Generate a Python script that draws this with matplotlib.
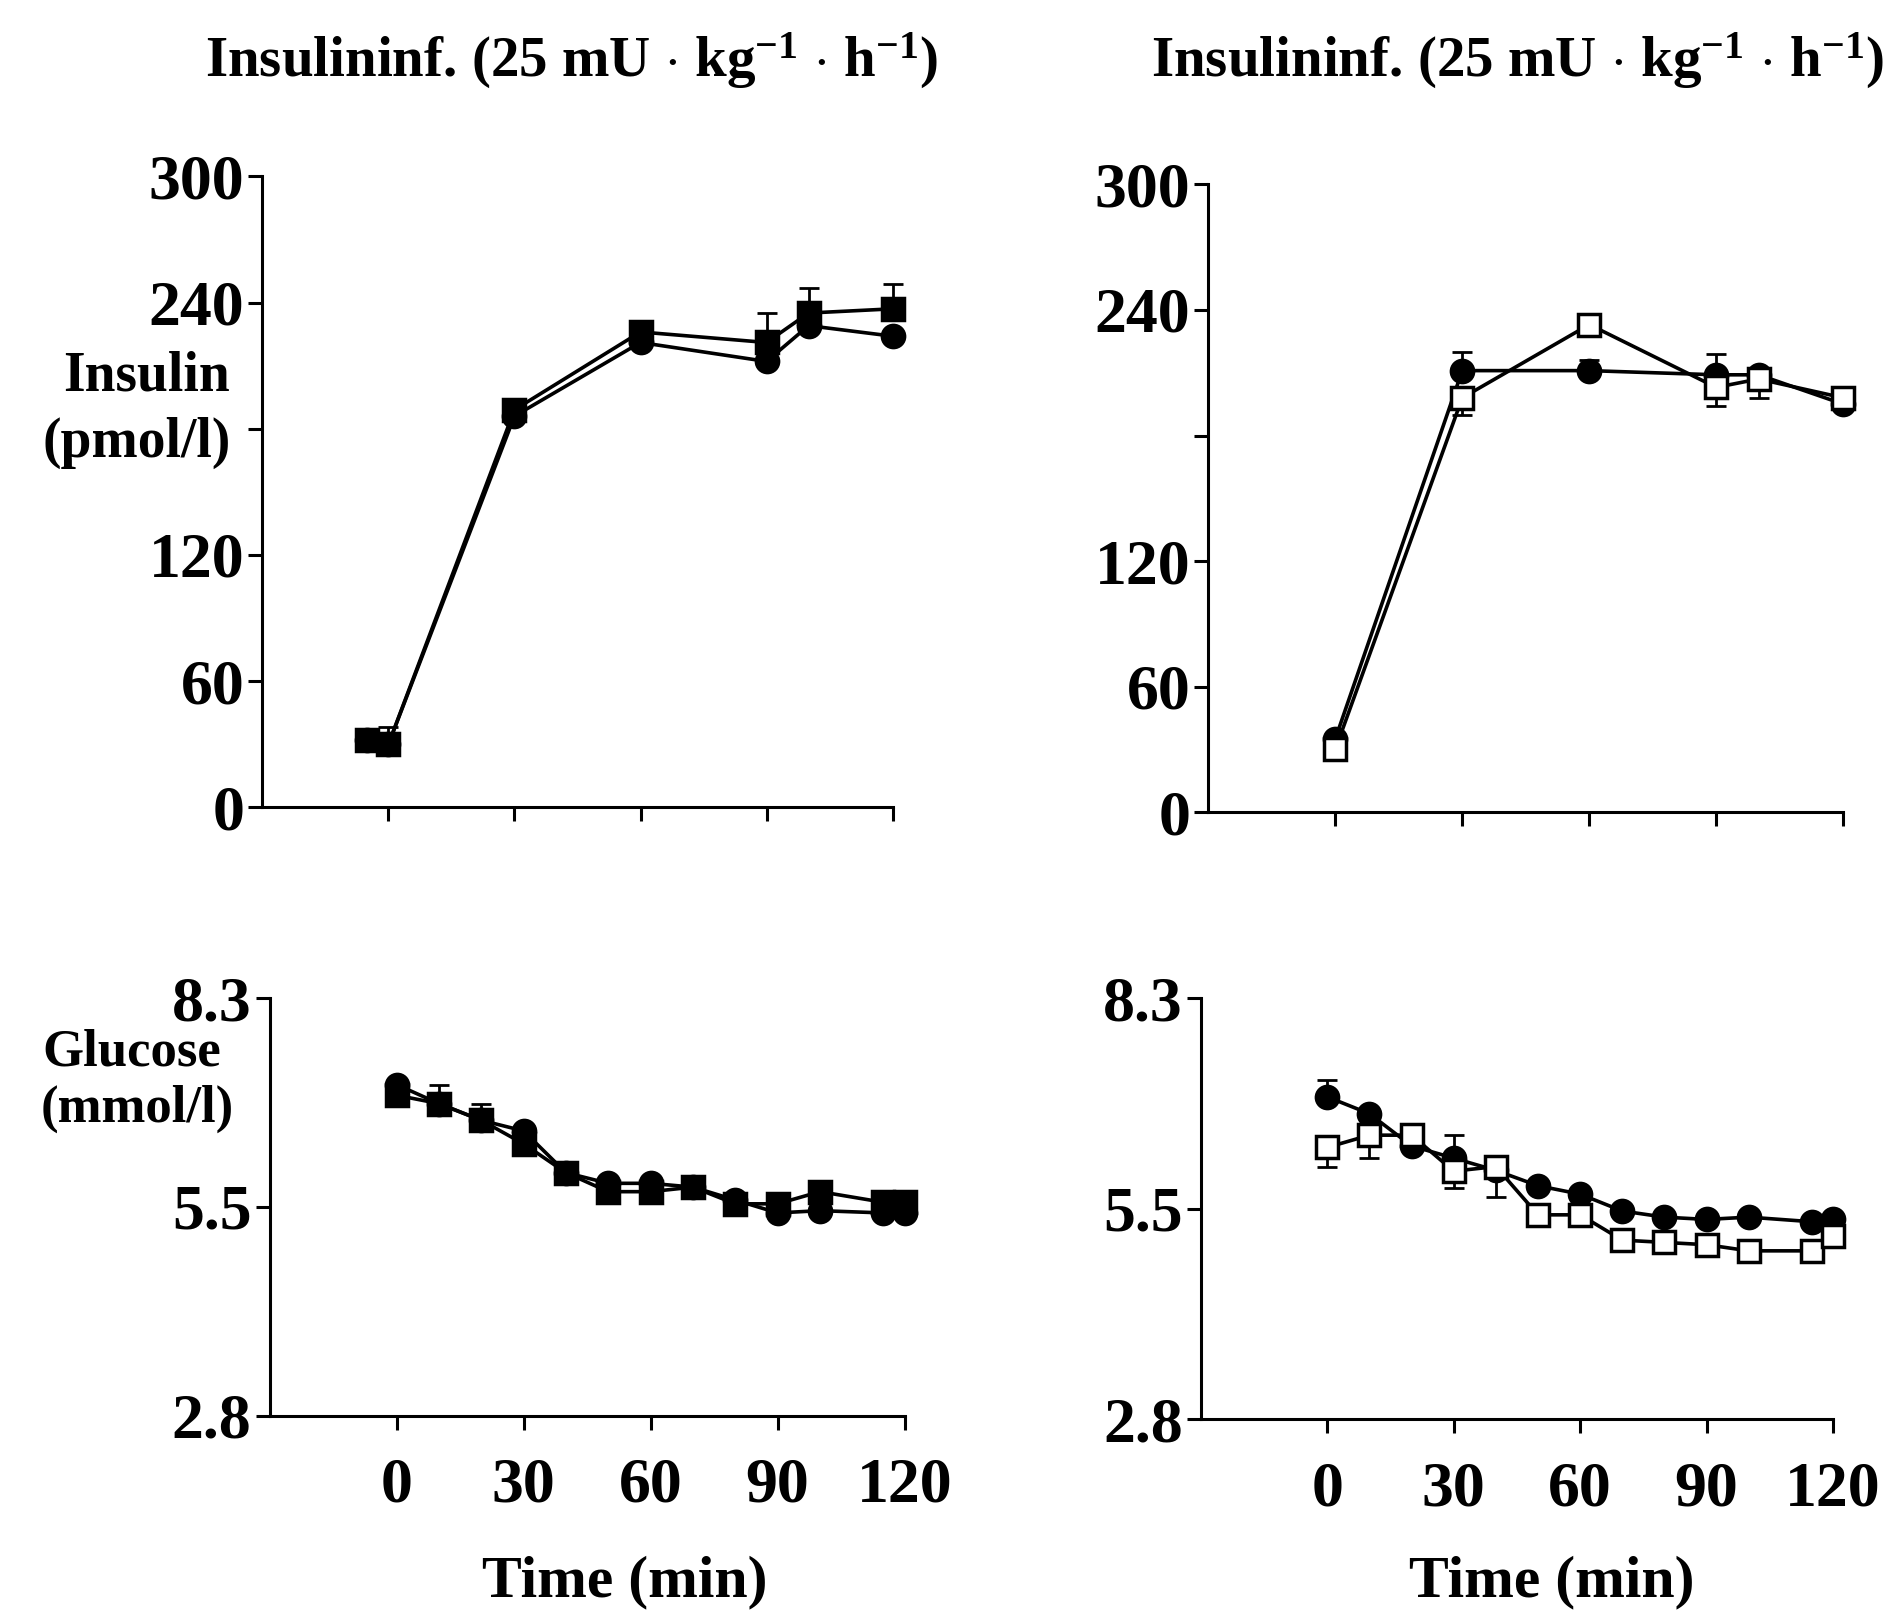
import numpy as np
import matplotlib
matplotlib.use('Agg')
import matplotlib.pyplot as plt

plt.rcParams['font.family'] = ['Liberation Serif', 'DejaVu Serif']
plt.rcParams['font.weight'] = 'bold'
plt.rcParams['mathtext.fontset'] = 'custom'
plt.rcParams['mathtext.rm'] = 'Liberation Serif:bold'
plt.rcParams['mathtext.it'] = 'Liberation Serif:bold'

# === insulin, left panel (filled circles / filled squares) ===
t_ins_l = [-5, 0, 30, 60, 90, 100, 120]
ins_l_circ = [32, 30, 186, 221, 212, 229, 224]
ins_l_sq = [32, 30, 189, 226, 221, 235, 237]
ins_l_sq_err = [0, 8, 0, 5, 14, 12, 12]

# === insulin, right panel (filled circles / open squares) ===
t_ins_r = [0, 30, 60, 90, 100, 120]
ins_r_circ = [35, 211, 211, 209, 209, 195]
ins_r_circ_err = [0, 9, 5, 10, 0, 0]
ins_r_sq = [30, 198, 233, 203, 207, 198]
ins_r_sq_err = [0, 8, 0, 9, 9, 0]

# === glucose, left panel ===
t_glu = [0, 10, 20, 30, 40, 50, 60, 70, 80, 90, 100, 115, 120]
glu_l_circ = [7.16, 6.91, 6.69, 6.55, 6.0, 5.86, 5.86, 5.81, 5.64, 5.47, 5.50, 5.47, 5.47]
glu_l_sq = [7.02, 6.91, 6.69, 6.38, 6.0, 5.75, 5.75, 5.81, 5.59, 5.59, 5.75, 5.61, 5.61]
glu_l_err = [0, 0.25, 0.22, 0, 0, 0, 0, 0, 0, 0, 0, 0, 0]

# === glucose, right panel ===
glu_r_circ = [7.01, 6.79, 6.37, 6.21, 6.05, 5.85, 5.74, 5.52, 5.44, 5.41, 5.44, 5.38, 5.41]
glu_r_circ_err = [0.22, 0, 0, 0.3, 0, 0, 0, 0, 0, 0, 0, 0, 0]
glu_r_sq = [6.35, 6.51, 6.51, 6.04, 6.10, 5.47, 5.47, 5.14, 5.11, 5.08, 5.00, 5.00, 5.19]
glu_r_sq_err = [0.25, 0.3, 0, 0.22, 0.4, 0, 0, 0, 0, 0, 0, 0, 0]

x_ticks = [0, 30, 60, 90, 120]
ins_ticks = [0, 60, 120, 180, 240, 300]
ins_labels = ['0', '60', '120', '', '240', '300']
glu_ticks = [2.8, 5.55, 8.3]
glu_labels = ['2.8', '5.5', '8.3']

title = r'Insulininf. (25 mU $\cdot$ kg$^{-1}$ $\cdot$ h$^{-1}$)'

fig = plt.figure(figsize=(19.04, 16.10), dpi=100)
ax_tl = fig.add_axes([0.1378, 0.4985, 0.331, 0.392])
ax_tr = fig.add_axes([0.6346, 0.4955, 0.3335, 0.390])
ax_bl = fig.add_axes([0.1416, 0.1207, 0.3335, 0.2594])
ax_br = fig.add_axes([0.6307, 0.1184, 0.332, 0.2617])

lw = 2.6
ms = 16


def style(ax, yticks, ylabels, ylim, xlabels):
    for s in ['top', 'right']:
        ax.spines[s].set_visible(False)
    for s in ['left', 'bottom']:
        ax.spines[s].set_linewidth(2.2)
    ax.set_xlim(-30, 120)
    ax.set_ylim(*ylim)
    ax.set_xticks(x_ticks)
    ax.set_yticks(yticks)
    ax.set_yticklabels(ylabels)
    if xlabels:
        ax.set_xticklabels([str(v) for v in x_ticks])
    else:
        ax.set_xticklabels([])
    ax.tick_params(axis='both', direction='out', length=10, width=2.2,
                   labelsize=46, pad=3)
    ax.tick_params(axis='x', pad=20)


def series(ax, t, y, marker, face, err_up=None, err_lo=None):
    up = err_up if err_up is not None else [0] * len(y)
    lo = err_lo if err_lo is not None else [0] * len(y)
    if any(v > 0 for v in up) or any(v > 0 for v in lo):
        ax.errorbar(t, y, yerr=[lo, up], fmt='none', ecolor='black',
                    elinewidth=2, capsize=7, capthick=2, zorder=2, clip_on=False)
    ax.plot(t, y, color='black', lw=lw, marker=marker, ms=ms,
            mfc=face, mec='black', mew=2.5, zorder=3, clip_on=False)


# top left
series(ax_tl, t_ins_l, ins_l_circ, 'o', 'black')
series(ax_tl, t_ins_l, ins_l_sq, 's', 'black', err_up=ins_l_sq_err)
style(ax_tl, ins_ticks, ins_labels, (0, 300), False)

# top right
series(ax_tr, t_ins_r, ins_r_circ, 'o', 'black', err_up=ins_r_circ_err)
series(ax_tr, t_ins_r, ins_r_sq, 's', 'white', err_lo=ins_r_sq_err)
style(ax_tr, ins_ticks, ins_labels, (0, 300), False)

# bottom left
series(ax_bl, t_glu, glu_l_circ, 'o', 'black', err_up=glu_l_err)
series(ax_bl, t_glu, glu_l_sq, 's', 'black')
style(ax_bl, glu_ticks, glu_labels, (2.8, 8.3), True)

# bottom right
series(ax_br, t_glu, glu_r_circ, 'o', 'black', err_up=glu_r_circ_err)
series(ax_br, t_glu, glu_r_sq, 's', 'white', err_lo=glu_r_sq_err)
style(ax_br, glu_ticks, glu_labels, (2.8, 8.3), True)

fig.text(0.300, 0.962, title, ha='center', va='center', fontsize=41)
fig.text(0.797, 0.962, title, ha='center', va='center', fontsize=41)

fig.text(0.077, 0.766, 'Insulin', ha='center', va='center', fontsize=40)
fig.text(0.072, 0.725, '(pmol/l)', ha='center', va='center', fontsize=40)
fig.text(0.069, 0.346, 'Glucose', ha='center', va='center', fontsize=38)
fig.text(0.072, 0.311, '(mmol/l)', ha='center', va='center', fontsize=38)

fig.text(0.328, 0.017, 'Time (min)', ha='center', va='center', fontsize=43)
fig.text(0.815, 0.017, 'Time (min)', ha='center', va='center', fontsize=43)

plt.savefig('out.png', dpi=100)
